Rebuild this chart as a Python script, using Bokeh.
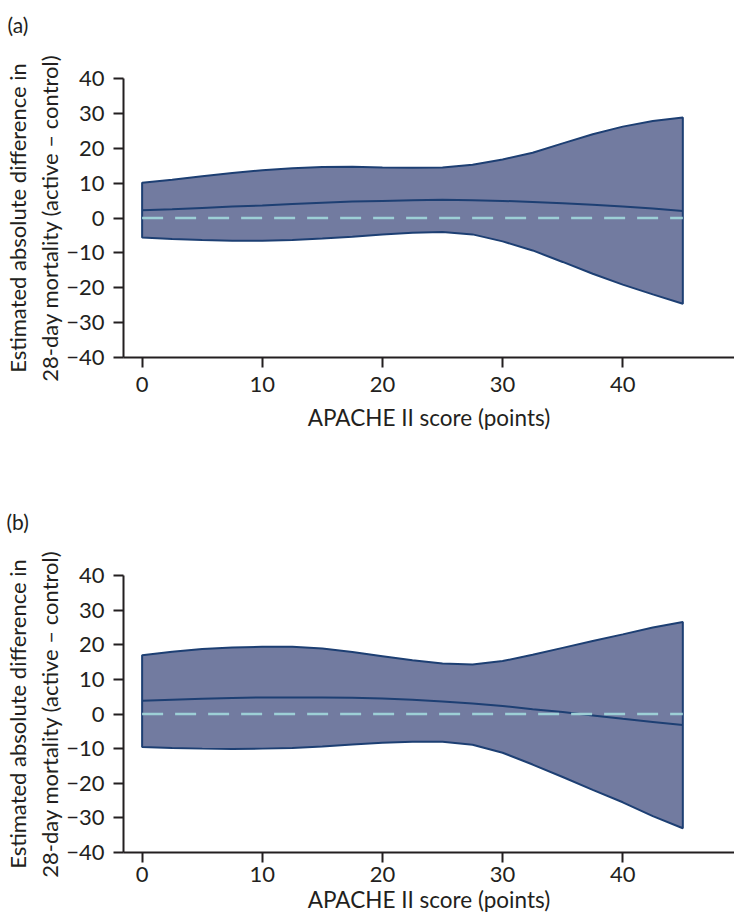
from bokeh.plotting import figure
from bokeh.layouts import column
from bokeh.models import CustomJSTickFormatter, FixedTicker, Range1d, Title
from bokeh.embed import file_html
from bokeh.resources import INLINE

# APACHE II score grid at which the curves were read
apache = [0, 2.5, 5, 7.5, 10, 12.5, 15, 17.5, 20, 22.5, 25, 27.5, 30, 32.5, 35, 37.5, 40, 42.5, 45]

# Panel (a)
a_upper = [10.1, 11.0, 12.0, 12.9, 13.7, 14.3, 14.6, 14.7, 14.5, 14.4, 14.5, 15.3, 16.8, 18.7, 21.4, 24.0, 26.2, 27.8, 28.8]
a_mid = [2.2, 2.5, 2.9, 3.3, 3.6, 4.0, 4.4, 4.7, 4.9, 5.1, 5.2, 5.1, 4.9, 4.6, 4.2, 3.8, 3.3, 2.7, 2.0]
a_lower = [-5.6, -6.0, -6.3, -6.5, -6.5, -6.3, -5.9, -5.4, -4.7, -4.2, -4.0, -4.7, -6.7, -9.3, -12.6, -16.0, -19.1, -21.9, -24.6]

# Panel (b)
b_upper = [17.0, 18.0, 18.8, 19.2, 19.4, 19.4, 18.9, 17.9, 16.7, 15.5, 14.6, 14.3, 15.3, 17.1, 19.1, 21.1, 23.0, 25.0, 26.6]
b_mid = [3.8, 4.1, 4.4, 4.6, 4.8, 4.8, 4.8, 4.7, 4.5, 4.1, 3.6, 3.0, 2.3, 1.4, 0.6, -0.4, -1.4, -2.3, -3.2]
b_lower = [-9.5, -9.8, -10.0, -10.1, -10.0, -9.8, -9.4, -8.8, -8.3, -8.0, -8.0, -8.9, -11.2, -14.6, -18.2, -21.9, -25.5, -29.5, -33.0]

x_ticks = [0, 10, 20, 30, 40]
y_ticks = [-40, -30, -20, -10, 0, 10, 20, 30, 40]
ref_x = [0, 45]
ref_y = [0, 0]

FONT = "Lato"
TXT = "#231f20"
FILL = "#727ba0"
EDGE = "#1d3f73"
DASH = "#9dcfd6"

fmt = CustomJSTickFormatter(code="return tick < 0 ? '\u2212' + Math.abs(tick) : String(tick);")


def make_panel(tag, upper, mid, lower, height, top, bottom, left, tick_standoff, xlab_standoff):
    p = figure(width=734, height=height, output_backend="svg", toolbar_location=None,
               x_range=Range1d(-1.55, 49.3), y_range=Range1d(-40, 40),
               min_border_left=left, min_border_right=0,
               min_border_top=top, min_border_bottom=bottom)
    p.outline_line_color = None
    p.xgrid.visible = False
    p.ygrid.visible = False
    p.background_fill_color = "white"
    p.border_fill_color = "white"

    # spacer between the panel tag and the frame
    p.add_layout(Title(text=" ", text_font_size="22px"), "above")
    p.title.text = tag
    p.title.align = "left"
    p.title.offset = -(left + 1)
    p.title.text_font = FONT
    p.title.text_font_size = "21px"
    p.title.text_font_style = "normal"
    p.title.text_color = TXT

    xs = list(apache) + list(reversed(apache))
    ys = list(upper) + list(reversed(lower))
    p.patch(xs, ys, fill_color=FILL, line_color=EDGE, line_width=2)
    p.line(apache, mid, line_color=EDGE, line_width=2)
    p.line(ref_x, ref_y, line_color=DASH, line_width=2.5, line_dash="21 12")

    for ax in (p.xaxis[0], p.yaxis[0]):
        ax.axis_line_color = TXT
        ax.axis_line_width = 2
        ax.major_tick_line_color = TXT
        ax.major_tick_line_width = 2
        ax.major_tick_out = 10
        ax.major_tick_in = 0
        ax.minor_tick_line_color = None
        ax.major_label_text_font = FONT
        ax.major_label_text_font_size = "22px"
        ax.major_label_text_color = TXT
        ax.axis_label_text_font = FONT
        ax.axis_label_text_font_size = "22px"
        ax.axis_label_text_font_style = "normal"
        ax.axis_label_text_color = TXT
        ax.formatter = fmt

    p.xaxis.ticker = FixedTicker(ticks=x_ticks)
    p.yaxis.ticker = FixedTicker(ticks=y_ticks)
    p.xaxis.axis_label = "APACHE II score (points)"
    p.xaxis.axis_label_text_font_size = "22.5px"
    p.yaxis.axis_label = "Estimated absolute difference in\n28-day mortality (active \u2013 control)"
    p.xaxis.major_label_standoff = tick_standoff
    p.xaxis.axis_label_standoff = xlab_standoff
    p.yaxis.major_label_standoff = 9
    p.yaxis.axis_label_standoff = 0
    return p


p1 = make_panel("(a)", a_upper, a_mid, a_lower, 439, 78, 82, 115, 9, 9)
p2 = make_panel("(b)", b_upper, b_mid, b_lower, 482, 136, 69, 116, 4, 1)

layout = column(p1, p2, spacing=0)
open("out.html", "w").write(file_html(layout, INLINE))
